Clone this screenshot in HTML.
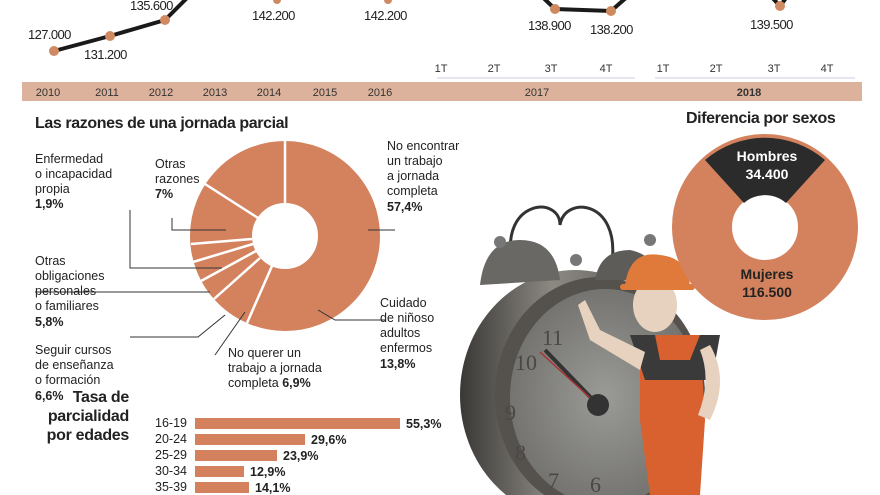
<!DOCTYPE html>
<html><head><meta charset="utf-8"><style>
body{margin:0;background:#fff;overflow:hidden}
svg{display:block;font-family:"Liberation Sans",sans-serif;}
.n{font-size:13px;fill:#222;letter-spacing:-0.6px}
.t{font-size:11px;fill:#333}
.l{font-size:12.5px;fill:#222}
.b{font-weight:bold}
</style></head><body>
<svg width="880" height="495" viewBox="0 0 880 495">
<defs>
<radialGradient id="face" cx="0.5" cy="0.5" r="0.6"><stop offset="0" stop-color="#9a9a96"/><stop offset="1" stop-color="#6d6c68"/></radialGradient>
<linearGradient id="rim" x1="0" x2="1"><stop offset="0" stop-color="#3a3835"/><stop offset="0.4" stop-color="#8c8983"/><stop offset="1" stop-color="#4a4845"/></linearGradient>
</defs>
<!-- line chart -->
<polyline points="54,51 110,36 165,20 200,-15" fill="none" stroke="#1a1a1a" stroke-width="4"/>
<polyline points="535,-10 555,9 611,11 635,-10" fill="none" stroke="#1a1a1a" stroke-width="4"/>
<polyline points="765,-10 780,6 792,-10" fill="none" stroke="#1a1a1a" stroke-width="4"/>
<g fill="#d08a62"><circle cx="54" cy="51" r="5"/><circle cx="110" cy="36" r="5"/><circle cx="165" cy="20" r="5"/><circle cx="277" cy="0" r="4"/><circle cx="388" cy="0" r="4"/><circle cx="555" cy="9" r="5"/><circle cx="611" cy="11" r="5"/><circle cx="780" cy="6" r="5"/></g>
<text class="n" x="28" y="39">127.000</text>
<text class="n" x="84" y="59">131.200</text>
<text class="n" x="130" y="10">135.600</text>
<text class="n" x="252" y="20">142.200</text>
<text class="n" x="364" y="20">142.200</text>
<text class="n" x="528" y="30">138.900</text>
<text class="n" x="590" y="34">138.200</text>
<text class="n" x="750" y="29">139.500</text>
<g class="t" text-anchor="middle"><text x="441" y="72">1T</text><text x="494" y="72">2T</text><text x="551" y="72">3T</text><text x="606" y="72">4T</text><text x="663" y="72">1T</text><text x="716" y="72">2T</text><text x="774" y="72">3T</text><text x="827" y="72">4T</text></g>
<line x1="437" y1="78" x2="635" y2="78" stroke="#dde" stroke-width="1.5"/>
<line x1="655" y1="78" x2="855" y2="78" stroke="#dde" stroke-width="1.5"/>
<rect x="22" y="82" width="840" height="19" fill="#ddb29c"/>
<g class="t" text-anchor="middle"><text x="48" y="96">2010</text><text x="107" y="96">2011</text><text x="161" y="96">2012</text><text x="215" y="96">2013</text><text x="269" y="96">2014</text><text x="325" y="96">2015</text><text x="380" y="96">2016</text><text x="537" y="96">2017</text><text x="749" y="96" class="b">2018</text></g>
<!-- titles -->
<text x="35" y="128" font-size="16" font-weight="bold" fill="#222" letter-spacing="-0.4">Las razones de una jornada parcial</text>
<text x="686" y="123" font-size="16" font-weight="bold" fill="#222" letter-spacing="-0.4">Diferencia por sexos</text>
<!-- donut razones -->
<circle cx="285" cy="236" r="64" fill="none" stroke="#d4825e" stroke-width="62"/>
<g stroke="#fff" stroke-width="2.5">
<line x1="285" y1="203" x2="285" y2="141"/>
<line x1="272" y1="266" x2="247" y2="323"/>
<line x1="260" y1="258" x2="214" y2="299"/>
<line x1="256" y1="251" x2="201" y2="281"/>
<line x1="253" y1="244" x2="193" y2="262"/>
<line x1="252" y1="239" x2="191" y2="244"/>
<line x1="258" y1="218" x2="205" y2="184"/>
</g>
<g stroke="#333" stroke-width="1" fill="none">
<polyline points="130,210 130,268 222,268"/>
<polyline points="35,292 210,292"/>
<polyline points="130,337 198,337 225,315"/>
<polyline points="172,218 172,230 226,230"/>
<polyline points="215,355 245,312"/>
<polyline points="385,320 335,320 318,310"/>
<polyline points="395,230 368,230"/>
</g>
<g class="l">
<text x="35" y="163">Enfermedad</text><text x="35" y="178">o incapacidad</text><text x="35" y="193">propia</text><text x="35" y="208" class="b">1,9%</text>
<text x="155" y="168">Otras</text><text x="155" y="183">razones</text><text x="155" y="198" class="b">7%</text>
<text x="35" y="265">Otras</text><text x="35" y="280">obligaciones</text><text x="35" y="295">personales</text><text x="35" y="310">o familiares</text><text x="35" y="326" class="b">5,8%</text>
<text x="35" y="354">Seguir cursos</text><text x="35" y="369">de enseñanza</text><text x="35" y="384">o formación</text><text x="35" y="400" class="b">6,6%</text>
<text x="228" y="357">No querer un</text><text x="228" y="372">trabajo a jornada</text><text x="228" y="387">completa <tspan class="b">6,9%</tspan></text>
<text x="387" y="150">No encontrar</text><text x="387" y="165">un trabajo</text><text x="387" y="180">a jornada</text><text x="387" y="195">completa</text><text x="387" y="211" class="b">57,4%</text>
<text x="380" y="307">Cuidado</text><text x="380" y="322">de niñoso</text><text x="380" y="337">adultos</text><text x="380" y="352">enfermos</text><text x="380" y="368" class="b">13,8%</text>
</g>
<!-- clock -->
<path d="M512,262 C500,200 560,195 560,225 C565,195 620,200 612,262" fill="none" stroke="#333" stroke-width="3"/>
<ellipse cx="575" cy="395" rx="115" ry="125" fill="url(#rim)"/>
<ellipse cx="600" cy="395" rx="105" ry="118" fill="#55524e"/>
<ellipse cx="605" cy="397" rx="95" ry="108" fill="url(#face)"/>
<path d="M480,285 Q485,240 520,240 Q555,240 560,280 Z" fill="#6a6864"/>
<path d="M595,280 Q600,250 630,250 Q655,255 660,280 Z" fill="#5e5c58"/>
<circle cx="500" cy="242" r="6" fill="#777"/><circle cx="576" cy="260" r="6" fill="#777"/><circle cx="650" cy="240" r="6" fill="#777"/>
<g font-family="Liberation Serif,serif" font-size="22" fill="#4a4845"><text x="515" y="370">10</text><text x="505" y="420">9</text><text x="515" y="460">8</text><text x="548" y="488">7</text><text x="590" y="492">6</text><text x="542" y="345">11</text></g>
<line x1="545" y1="350" x2="598" y2="405" stroke="#333" stroke-width="4"/>
<line x1="540" y1="352" x2="598" y2="405" stroke="#a33" stroke-width="1.5"/>
<circle cx="598" cy="405" r="11" fill="#333"/>
<!-- worker -->
<path d="M640,335 L700,335 L705,420 L700,495 L650,495 L640,420 Z" fill="#d8612f"/>
<path d="M630,335 L720,335 L712,380 L645,380 Z" fill="#3a3a3a"/>
<path d="M655,335 L660,360 L690,360 L700,335 Z" fill="#d8612f"/>
<ellipse cx="655" cy="305" rx="22" ry="27" fill="#e6d2bf"/>
<path d="M625,285 Q630,250 660,255 Q690,258 690,290 Z" fill="#e07a3a"/>
<rect x="620" y="284" width="75" height="6" rx="3" fill="#e07a3a"/>
<path d="M645,352 L600,330 L585,300 L578,305 L590,340 L640,370 Z" fill="#e6d2bf"/>
<path d="M710,345 Q730,380 710,420 L698,415 Q712,380 700,350 Z" fill="#e6d2bf"/>
<!-- sexos -->
<circle cx="765" cy="227" r="63" fill="none" stroke="#d4825e" stroke-width="60"/>
<path d="M705,160 A92,92 0 0 1 825,160 L786,203 A32,32 0 0 0 744,203 Z" fill="#2b2b2b"/>
<g text-anchor="middle" font-size="14" font-weight="bold">
<text x="767" y="161" fill="#fff">Hombres</text><text x="767" y="179" fill="#fff">34.400</text>
<text x="767" y="279" fill="#222">Mujeres</text><text x="767" y="297" fill="#222">116.500</text></g>
<!-- bars -->
<g font-size="16" font-weight="bold" fill="#222" text-anchor="end" letter-spacing="-0.3"><text x="129" y="402">Tasa de</text><text x="129" y="421">parcialidad</text><text x="129" y="440">por edades</text></g>
<g class="l"><text x="155" y="427">16-19</text><text x="155" y="443">20-24</text><text x="155" y="459">25-29</text><text x="155" y="475">30-34</text><text x="155" y="491">35-39</text></g>
<g fill="#d4825e"><rect x="195" y="418" width="205" height="11"/><rect x="195" y="434" width="110" height="11"/><rect x="195" y="450" width="82" height="11"/><rect x="195" y="466" width="49" height="11"/><rect x="195" y="482" width="54" height="11"/></g>
<g class="l b"><text x="406" y="428">55,3%</text><text x="311" y="444">29,6%</text><text x="283" y="460">23,9%</text><text x="250" y="476">12,9%</text><text x="255" y="492">14,1%</text></g>
</svg>
</body></html>
